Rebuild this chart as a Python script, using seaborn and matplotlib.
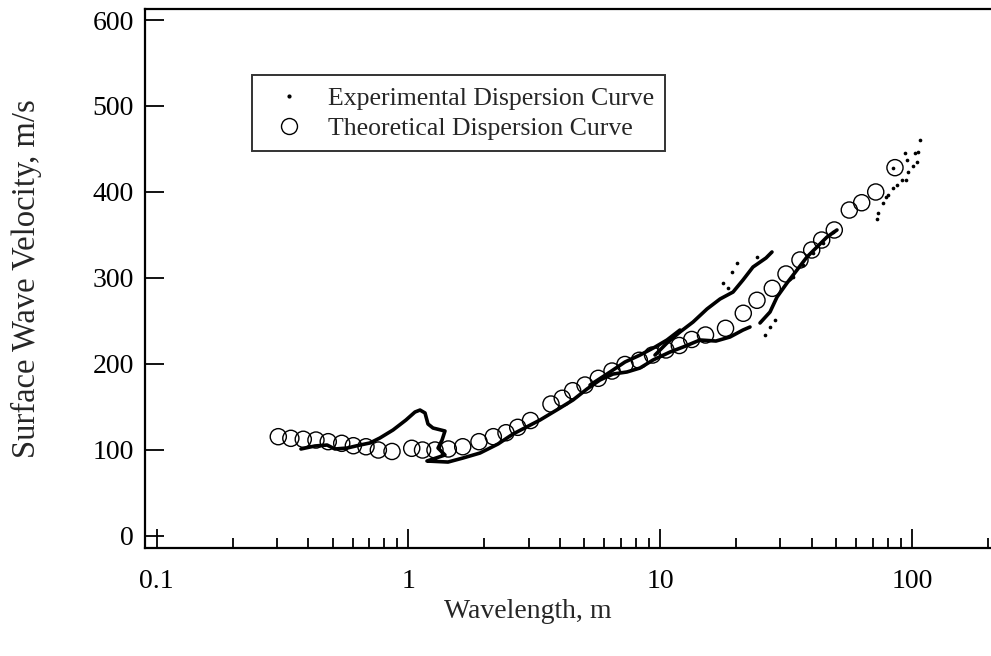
import numpy as np
import pandas as pd
import matplotlib
matplotlib.use("Agg")
import matplotlib.pyplot as plt
from matplotlib.lines import Line2D
from matplotlib.ticker import FixedLocator, FixedFormatter, LogLocator, NullFormatter
import seaborn as sns

# ---- Theoretical dispersion curve (open circles) ----
theo_wavelength = [0.304, 0.341, 0.382, 0.429, 0.480, 0.543, 0.604, 0.678, 0.759, 0.860,
                   1.030, 1.137, 1.274, 1.439, 1.642, 1.905, 2.172, 2.439, 2.715, 3.051,
                   3.680, 4.080, 4.488, 5.023, 5.673, 6.430, 7.240, 8.254, 9.312, 10.53,
                   11.90, 13.33, 15.12, 18.16, 21.36, 24.21, 27.85, 31.57, 35.87, 39.93,
                   43.75, 49.09, 56.32, 63.07, 71.72, 85.52]
theo_velocity = [115.2, 113.3, 112.2, 111.3, 109.4, 107.5, 104.7, 103.5, 99.7, 98.0,
                 101.7, 99.7, 99.7, 100.9, 103.5, 109.4, 115.2, 119.8, 126.1, 134.0,
                 153.2, 159.9, 168.7, 175.3, 183.1, 191.6, 199.2, 204.1, 210.2, 216.1,
                 221.3, 228.3, 233.5, 241.3, 258.8, 273.9, 287.8, 304.5, 320.8, 332.4,
                 344.0, 355.7, 378.9, 387.4, 399.9, 428.2]

# ---- Experimental dispersion curve: dense dot traces (branches) ----
branch_main_wl = [0.374, 0.425, 0.475, 0.510, 0.570, 0.642, 0.703, 0.770, 0.868, 0.977,
                  1.061, 1.111, 1.163, 1.195, 1.251, 1.396, 1.359, 1.310, 1.396, 1.286,
                  1.184, 1.435, 1.646, 1.923, 2.267, 2.600, 3.329, 3.998, 4.501, 5.116,
                  5.761, 6.489, 7.375, 8.307, 9.355, 10.93, 12.31, 14.38, 16.64, 18.92,
                  21.30, 22.71]
branch_main_v = [100.9, 104.4, 105.5, 100.9, 102.0, 105.5, 107.9, 113.7, 123.0, 134.6,
                 143.9, 146.2, 142.8, 130.0, 125.3, 121.8, 111.3, 102.0, 93.9, 90.4,
                 86.9, 85.7, 90.4, 96.2, 106.7, 118.3, 134.6, 148.6, 157.9, 170.7,
                 181.2, 188.1, 190.5, 195.1, 204.4, 213.7, 219.5, 227.7, 226.5, 231.2,
                 239.3, 242.8]

branch_mid_wl = [5.26, 6.32, 7.24, 8.31, 9.53, 10.63, 11.97]
branch_mid_v = [175.3, 190.5, 202.1, 210.2, 219.5, 227.7, 239.3]

branch_upper_wl = [9.528, 10.63, 11.97, 13.49, 15.33, 17.27, 19.45, 21.30, 23.34, 26.29, 27.77]
branch_upper_v = [210.2, 224.2, 237.0, 248.6, 263.8, 275.4, 283.5, 297.5, 312.6, 323.1, 330.1]

branch_right_wl = [24.89, 27.28, 29.08, 31.86, 34.90, 38.24, 41.91, 45.92, 50.31]
branch_right_v = [247.5, 260.3, 277.7, 294.0, 309.1, 324.3, 335.9, 347.5, 355.7]

# ---- Experimental: scattered individual dots ----
dots_wl = [107.5, 93.7, 102.7, 105.5, 95.4, 104.6, 100.8, 96.3, 84.0, 91.2, 94.6, 87.1,
           84.0, 80.2, 76.6, 73.2, 72.5, 78.8,
           40.4, 44.3, 48.5, 36.9, 33.7, 28.5, 26.0, 27.3,
           20.11, 19.22, 24.17, 17.79, 18.5]
dots_v = [460.4, 445.3, 445.3, 446.4, 437.1, 434.8, 430.1, 423.2, 427.8, 413.8, 413.8, 408.0,
          404.5, 396.4, 387.1, 375.5, 368.5, 394.1,
          328.9, 340.5, 353.3, 315.0, 301.0, 251.0, 233.5, 242.8,
          316.9, 307.2, 324.6, 293.7, 287.8]

x_ticks = [0.1, 1, 10, 100]
x_tick_labels = ["0.1", "1", "10", "100"]
y_ticks = [0, 100, 200, 300, 400, 500, 600]

branches = [
    (branch_main_wl, branch_main_v),
    (branch_mid_wl, branch_mid_v),
    (branch_upper_wl, branch_upper_v),
    (branch_right_wl, branch_right_v),
]

sns.set_style("white")
plt.rcParams["font.family"] = ["Liberation Serif", "DejaVu Serif"]

fig = plt.figure(figsize=(9.91, 6.56), dpi=100)
W, H = 991.0, 656.0
ax_left = 145 / W
ax_right = 1012.8 / W
ax_bottom = (H - 548) / H
ax_top = (H - 9) / H
ax = fig.add_axes([ax_left, ax_bottom, ax_right - ax_left, ax_top - ax_bottom])
ax.set_xscale("log")

for wl, v in branches:
    df = pd.DataFrame({"wl": wl, "v": v})
    sns.lineplot(data=df, x="wl", y="v", sort=False, estimator=None, ax=ax,
                 color="black", lw=2.6, solid_capstyle="round", solid_joinstyle="round")

df_dots = pd.DataFrame({"wl": dots_wl, "v": dots_v})
sns.scatterplot(data=df_dots, x="wl", y="v", ax=ax, color="black", s=7,
                linewidth=0, marker="o")

df_theo = pd.DataFrame({"wl": theo_wavelength, "v": theo_velocity})
sns.scatterplot(data=df_theo, x="wl", y="v", ax=ax, s=135, marker="o",
                facecolor="none", edgecolor="black", linewidth=1.0, zorder=3)

ax.set_xlim(10 ** -1.0465, 10 ** 2.4)
ax.set_ylim(-14.3, 612.8)

ax.xaxis.set_major_locator(FixedLocator(x_ticks))
ax.xaxis.set_major_formatter(FixedFormatter(x_tick_labels))
ax.xaxis.set_minor_locator(LogLocator(base=10, subs=np.arange(2, 10), numticks=20))
ax.xaxis.set_minor_formatter(NullFormatter())
ax.yaxis.set_major_locator(FixedLocator(y_ticks))
ax.yaxis.set_minor_locator(FixedLocator([]))

ax.tick_params(axis="both", which="major", direction="in", length=13.5, width=1.3,
               labelsize=20, color="black", labelcolor="black")
ax.tick_params(axis="x", which="major", pad=15)
ax.tick_params(axis="y", which="major", pad=8)
ax.tick_params(axis="x", which="minor", direction="in", length=7, width=1.3, color="black")
ax.tick_params(which="both", bottom=True, left=True, top=False, right=False)

for side in ["left", "bottom", "top"]:
    ax.spines[side].set_visible(True)
    ax.spines[side].set_color("black")
    ax.spines[side].set_linewidth(1.6)
ax.spines["right"].set_visible(False)

axw = (1012.8 - 145)
axh = 548 - 9
ax.set_xlabel("Wavelength, m", fontsize=20)
ax.xaxis.set_label_coords((528 - 145) / axw, (548 - 599) / axh)
ax.set_ylabel("Surface Wave Velocity, m/s", fontsize=23.5)
ax.yaxis.set_label_coords((42 - 145) / axw, 0.5)

handles = [
    Line2D([], [], linestyle="none", marker="o", markersize=2, color="black"),
    Line2D([], [], linestyle="none", marker="o", markersize=11.5, markerfacecolor="none",
           markeredgecolor="black", markeredgewidth=1.0),
]
labels = ["Experimental Dispersion Curve", "Theoretical Dispersion Curve"]
leg = ax.legend(handles, labels, loc="upper left",
                bbox_to_anchor=((252 - 145) / axw, (548 - 75) / axh),
                borderaxespad=0, fontsize=18.5, frameon=True, fancybox=False,
                handletextpad=0.5, borderpad=0.45, labelspacing=0.28, handlelength=2.0)
leg.get_frame().set_edgecolor("black")
leg.get_frame().set_linewidth(1.4)

fig.savefig("out.png", dpi=100)
